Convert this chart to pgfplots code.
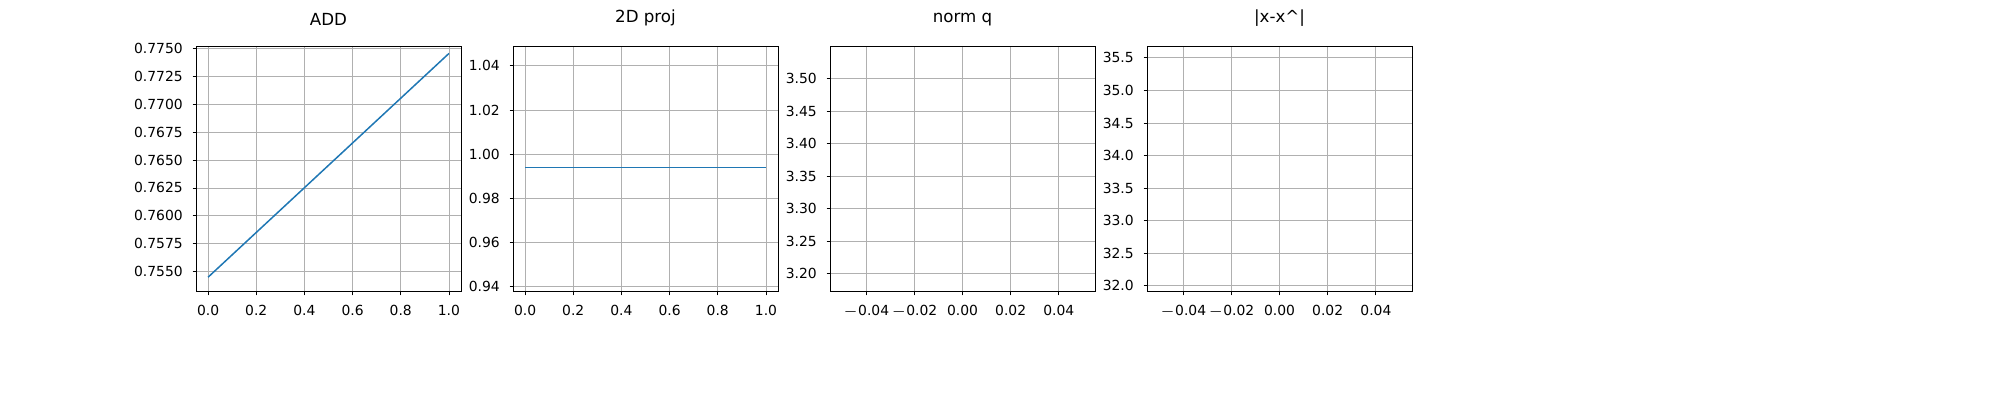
\documentclass[border=0pt]{standalone}
\usepackage{pgfplots}
\pgfplotsset{compat=1.18}
\usepackage{fontspec}
\setmainfont{DejaVu Sans}
\definecolor{mplblue}{HTML}{1F77B4}
\definecolor{gridc}{HTML}{B0B0B0}
\pgfplotsset{
  myax/.style={scale only axis, width=95.4pt, height=88.2pt, anchor=south west,
    tick label style={font=\fontsize{5}{6}\selectfont},
    title style={font=\fontsize{6}{7}\selectfont, yshift=-2pt},
    tick align=outside, tick pos=left, major tick length=1.26pt,
    grid=major, major grid style={gridc, line width=0.29pt},
    axis line style={line width=0.29pt}, every tick/.style={black,line width=0.29pt},
    /pgf/number format/assume math mode=true,
    scaled ticks=false}
}
\begin{document}
\begin{tikzpicture}
\path (0pt,0pt) rectangle (720pt,144pt);
\begin{axis}[myax, at={(70.56pt,42.12pt)}, title={ADD}, xmin=-0.05, xmax=1.05, ymin=0.75319, ymax=0.77514,
  xtick={0,0.2,...,1}, xticklabels={0.0,0.2,0.4,0.6,0.8,1.0},
  ytick={0.7550,0.7575,0.7600,0.7625,0.7650,0.7675,0.7700,0.7725,0.7750},
  yticklabels={0.7550,0.7575,0.7600,0.7625,0.7650,0.7675,0.7700,0.7725,0.7750}]
\addplot[mplblue, line width=0.54pt] coordinates {(0,0.75450) (1,0.77455)};
\end{axis}
\begin{axis}[myax, at={(184.68pt,42.12pt)}, title={2D proj}, xmin=-0.05, xmax=1.05, ymin=0.9377, ymax=1.0486,
  xtick={0,0.2,...,1}, xticklabels={0.0,0.2,0.4,0.6,0.8,1.0},
  ytick={0.94,0.96,0.98,1.00,1.02,1.04}, yticklabels={0.94,0.96,0.98,1.00,1.02,1.04}]
\addplot[mplblue, line width=0.54pt] coordinates {(0,0.9940) (1,0.9940)};
\end{axis}
\begin{axis}[myax, at={(298.8pt,42.12pt)}, title={norm q}, xmin=-0.055, xmax=0.055, ymin=3.172, ymax=3.549,
  xtick={-0.04,-0.02,0,0.02,0.04}, xticklabels={$-$0.04,$-$0.02,0.00,0.02,0.04},
  ytick={3.20,3.25,3.30,3.35,3.40,3.45,3.50}, yticklabels={3.20,3.25,3.30,3.35,3.40,3.45,3.50}]
\end{axis}
\begin{axis}[myax, at={(412.92pt,42.12pt)}, title={|x-x\textasciicircum|}, xmin=-0.055, xmax=0.055, ymin=31.908, ymax=35.669,
  xtick={-0.04,-0.02,0,0.02,0.04}, xticklabels={$-$0.04,$-$0.02,0.00,0.02,0.04},
  ytick={32,32.5,...,35.5}, yticklabels={32.0,32.5,33.0,33.5,34.0,34.5,35.0,35.5}]
\end{axis}
\end{tikzpicture}
\end{document}
